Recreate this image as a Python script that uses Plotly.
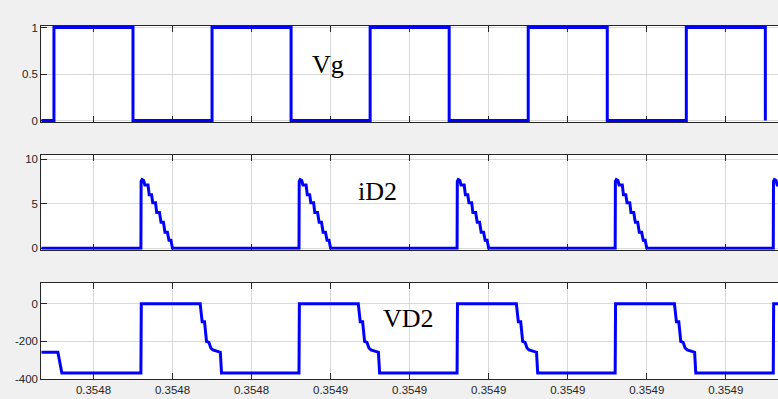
import plotly.graph_objects as go

# ---- time axis (seconds) ----
t_start = 0.3548134
t_end = 0.3549066
tick_vals = [0.35482, 0.35483, 0.35484, 0.35485, 0.35486, 0.35487, 0.35488, 0.35489, 0.35490]
tick_text = ["0.3548", "0.3548", "0.3548", "0.3549", "0.3549", "0.3549", "0.3549", "0.3549", "0.3549"]

# ---- gate signal Vg: switching instants ----
vg_rise = [0.354815, 0.354835, 0.354855, 0.354875, 0.354895]
vg_fall = [0.354825, 0.354845, 0.354865, 0.354885, 0.354905]

# ---- diode conduction starts (iD2 / VD2) ----
d2_on = [0.354826, 0.354846, 0.354866, 0.354886, 0.354906]

# iD2 pulse shape: offset from turn-on (microseconds) and current (A)
id2_off_us = [0, 0.03, 0.15, 0.35, 0.5, 0.9, 1.05, 1.35, 1.5, 1.85, 2.0, 2.35,
              2.55, 2.85, 3.05, 3.35, 3.55, 3.8, 4.0]
id2_val = [0, 7.5, 7.7, 7.6, 7.1, 7.1, 6.0, 6.0, 5.1, 5.1, 4.0, 4.0,
           2.9, 2.9, 1.8, 1.8, 0.9, 0.9, 0]

# VD2 period shape: offset from turn-on (microseconds) and voltage (V)
vd2_off_us = [0.0, 0.05, 7.5, 7.75, 8.05, 8.3, 8.6, 8.85, 9.1, 9.6, 10.05, 10.2]
vd2_val = [-368, 0, 0, -96, -96, -200, -205, -235, -245, -252, -258, -368]

# VD2 tail of the preceding period at the left edge
vd2_head_t = [0.3548134, 0.3548155, 0.3548160]
vd2_head_v = [-258, -258, -368]

# ---- build traces ----
vg_t, vg_v = [t_start], [0]
for r, f in zip(vg_rise, vg_fall):
    vg_t += [r, r, f, f]
    vg_v += [0, 1, 1, 0]

id_t, id_v = [t_start], [0]
for t0 in d2_on:
    for o, v in zip(id2_off_us, id2_val):
        id_t.append(t0 + o * 1e-6)
        id_v.append(v)

vd_t, vd_v = list(vd2_head_t), list(vd2_head_v)
for t0 in d2_on:
    for o, v in zip(vd2_off_us, vd2_val):
        vd_t.append(t0 + o * 1e-6)
        vd_v.append(v)

BLUE = "#0000ff"
LW = 3

fig = go.Figure()
fig.add_trace(go.Scatter(x=vg_t, y=vg_v, mode="lines", line=dict(color=BLUE, width=LW),
                         xaxis="x", yaxis="y", showlegend=False))
fig.add_trace(go.Scatter(x=id_t, y=id_v, mode="lines", line=dict(color=BLUE, width=LW),
                         xaxis="x2", yaxis="y2", showlegend=False))
fig.add_trace(go.Scatter(x=vd_t, y=vd_v, mode="lines", line=dict(color=BLUE, width=LW),
                         xaxis="x3", yaxis="y3", showlegend=False))

W, H = 778, 399
x_dom = [41.3 / W, 1.0]
doms = [(26, 122), (154.7, 249.7), (282.7, 379)]

tick_font = dict(family="Liberation Sans, Arial, sans-serif", size=11.5, color="#262626")
GRID = "#d9d9d9"
AX = "#262626"


def xaxis(show_labels):
    return dict(domain=x_dom, range=[t_start, t_end], tickvals=tick_vals,
                ticktext=tick_text, showticklabels=show_labels, ticks="inside",
                ticklen=6, tickcolor=AX, showline=True, linecolor=AX, linewidth=1,
                mirror="ticks", showgrid=True, gridcolor=GRID, gridwidth=1,
                zeroline=False, tickfont=tick_font, automargin=False,
                layer="below traces", fixedrange=True)


def yaxis(dom, rng, vals, txt):
    return dict(domain=[1 - dom[1] / H, 1 - dom[0] / H], range=rng, tickvals=vals,
                ticktext=txt, ticks="inside", ticklen=6, tickcolor=AX,
                showline=True, linecolor=AX, linewidth=1, mirror=False,
                showgrid=True, gridcolor=GRID, gridwidth=1, zeroline=False,
                tickfont=tick_font, automargin=False, layer="below traces",
                fixedrange=True)


fig.update_layout(
    width=W, height=H,
    margin=dict(l=0, r=0, t=0, b=0),
    paper_bgcolor="#f0f0f0",
    plot_bgcolor="#ffffff",
    xaxis=xaxis(False),
    xaxis2=dict(xaxis(False), anchor="y2"),
    xaxis3=dict(xaxis(True), anchor="y3"),
    yaxis=yaxis(doms[0], [-0.016, 1.016], [0, 0.5, 1], ["0", "0.5", "1"]),
    yaxis2=yaxis(doms[1], [-0.17, 10.5], [0, 5, 10], ["0", "5", "10"]),
    yaxis3=yaxis(doms[2], [-400, 112], [-400, -200, 0], ["-400", "-200", "0"]),
)
fig.layout.xaxis.anchor = "y"
fig.layout.yaxis.anchor = "x"
fig.layout.yaxis2.anchor = "x2"
fig.layout.yaxis3.anchor = "x3"

label_font = dict(family="Liberation Serif, Times New Roman, serif", size=26, color="#000000")
for txt, cx, cy in [("Vg", 327.5, 65), ("iD2", 377.8, 191), ("VD2", 408.3, 318.5)]:
    fig.add_annotation(text=txt, x=cx / W, y=1 - cy / H, xref="paper", yref="paper",
                       showarrow=False, xanchor="center", yanchor="middle", font=label_font)

fig.write_html("out.html")
